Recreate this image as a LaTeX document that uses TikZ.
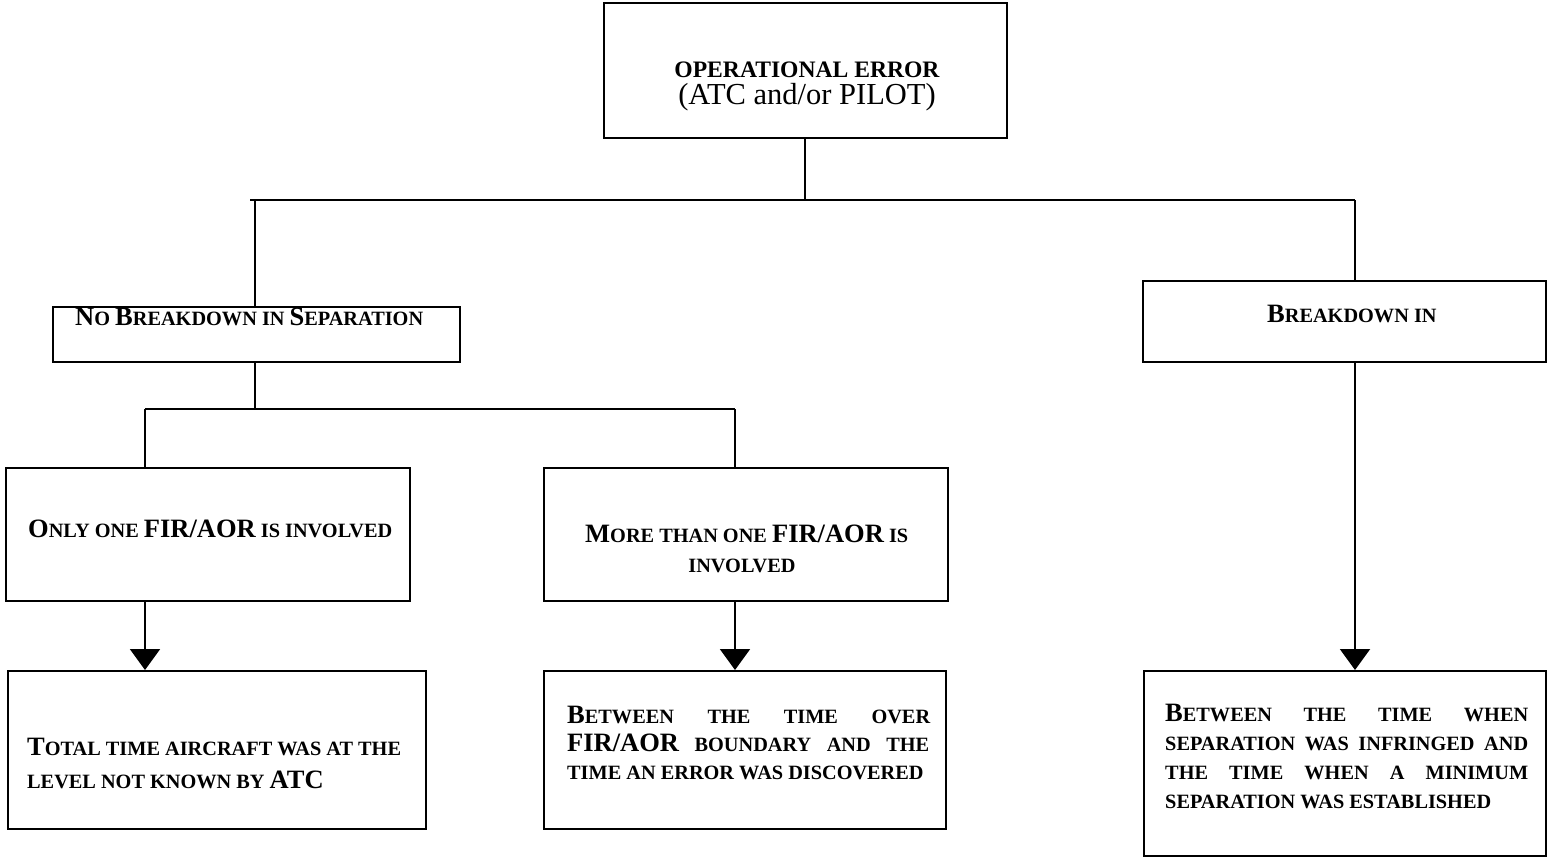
\documentclass[tikz,border=0pt]{standalone}
\usepackage{fontspec}
\setmainfont{Liberation Serif}
\usetikzlibrary{arrows.meta}
\newcommand\Lg[1]{{\fontsize{26.5}{30}\selectfont #1}}
\newcommand\Sm[1]{{\fontsize{20.3}{30}\selectfont #1}}
\begin{document}
\begin{tikzpicture}[x=1pt,y=-1pt,
  box/.style={draw,line width=2pt,inner sep=0pt,anchor=north west},
  ln/.style={line width=2pt},
  arr/.style={line width=2pt,-{Triangle[width=30pt,length=21pt]}},
  txt/.style={inner sep=0pt,anchor=base west,font=\bfseries},
  ctxt/.style={inner sep=0pt,anchor=base,font=\bfseries}]
\useasboundingbox (0,0) rectangle (1547,857);
% boxes
\node[box,minimum width=403pt,minimum height=135pt] (top) at (603,2) {};
\node[box,minimum width=407pt,minimum height=55pt] (nb) at (52,306) {};
\node[box,minimum width=403pt,minimum height=81pt] (bd) at (1142,280) {};
\node[box,minimum width=404pt,minimum height=133pt] (one) at (5,467) {};
\node[box,minimum width=404pt,minimum height=133pt] (more) at (543,467) {};
\node[box,minimum width=418pt,minimum height=158pt] (tl) at (7,670) {};
\node[box,minimum width=402pt,minimum height=158pt] (tm) at (543,670) {};
\node[box,minimum width=402pt,minimum height=185pt] (tr) at (1143,670) {};
% junctions
\coordinate (j0) at (805,200);
\coordinate (jl) at (250,200);
\coordinate (vl) at (255,200);
\coordinate (jr) at (1355,200);
\coordinate (k0) at (255,409);
\coordinate (kl) at (145,409);
\coordinate (kr) at (735,409);
% connectors
\draw[ln] (j0 |- top.south) -- (j0);
\draw[ln] (jl) -- (jr);
\draw[ln] (vl) -- (vl |- nb.north);
\draw[ln] (jr) -- (jr |- bd.north);
\draw[ln] (k0 |- nb.south) -- (k0);
\draw[ln] (kl) -- (kr);
\draw[ln] (kl) -- (kl |- one.north);
\draw[ln] (kr) -- (kr |- more.north);
\draw[arr] (kl |- one.south) -- (kl |- tl.north);
\draw[arr] (kr |- more.south) -- (kr |- tm.north);
\draw[arr] (jr |- bd.south) -- (jr |- tr.north);
% texts
\node[ctxt,font=\fontsize{23.6}{26}\selectfont\bfseries] (t0a) at (807,77) {OPERATIONAL ERROR};
\node[ctxt,font=\fontsize{30.5}{32}\selectfont] (t0b) at (807,104) {(ATC and/or PILOT)};
\node[txt] (tnb) at (75,325) {\Lg{N}\Sm{O }\Lg{B}\Sm{REAKDOWN IN }\Lg{S}\Sm{EPARATION}};
\node[txt] (tbd) at (1267,322) {\Lg{B}\Sm{REAKDOWN IN}};
\node[txt] (tone) at (28,537) {\Lg{O}\Sm{NLY ONE }\Lg{FIR/AOR}\Sm{ IS INVOLVED}};
\node[txt] (tmore1) at (585,542) {\Lg{M}\Sm{ORE THAN ONE }\Lg{FIR/AOR}\Sm{ IS}};
\node[ctxt] (tmore2) at (742,572) {\Sm{INVOLVED}};
\node[txt] (ttl1) at (27,755) {\Lg{T}\Sm{OTAL TIME AIRCRAFT WAS AT THE}};
\node[txt] (ttl2) at (27,788) {\Sm{LEVEL NOT KNOWN BY }\Lg{ATC}};
\node[txt] (ttm1) at (567,723) {\hbox to 363pt{\Lg{B}\Sm{ETWEEN}\hfill\Sm{THE}\hfill\Sm{TIME}\hfill\Sm{OVER}}};
\node[txt] (ttm2) at (567,751) {\hbox to 362pt{\Lg{FIR/AOR}\hfill\Sm{BOUNDARY}\hfill\Sm{AND}\hfill\Sm{THE}}};
\node[txt] (ttm3) at (567,779) {\Sm{TIME AN ERROR WAS DISCOVERED}};
\node[txt] (ttr1) at (1165,721) {\hbox to 363pt{\Lg{B}\Sm{ETWEEN}\hfill\Sm{THE}\hfill\Sm{TIME}\hfill\Sm{WHEN}}};
\node[txt] (ttr2) at (1165,750) {\hbox to 363pt{\Sm{SEPARATION}\hfill\Sm{WAS}\hfill\Sm{INFRINGED}\hfill\Sm{AND}}};
\node[txt] (ttr3) at (1165,779) {\hbox to 363pt{\Sm{THE}\hfill\Sm{TIME}\hfill\Sm{WHEN}\hfill\Sm{A}\hfill\Sm{MINIMUM}}};
\node[txt] (ttr4) at (1165,808) {\Sm{SEPARATION WAS ESTABLISHED}};
\end{tikzpicture}
\end{document}
